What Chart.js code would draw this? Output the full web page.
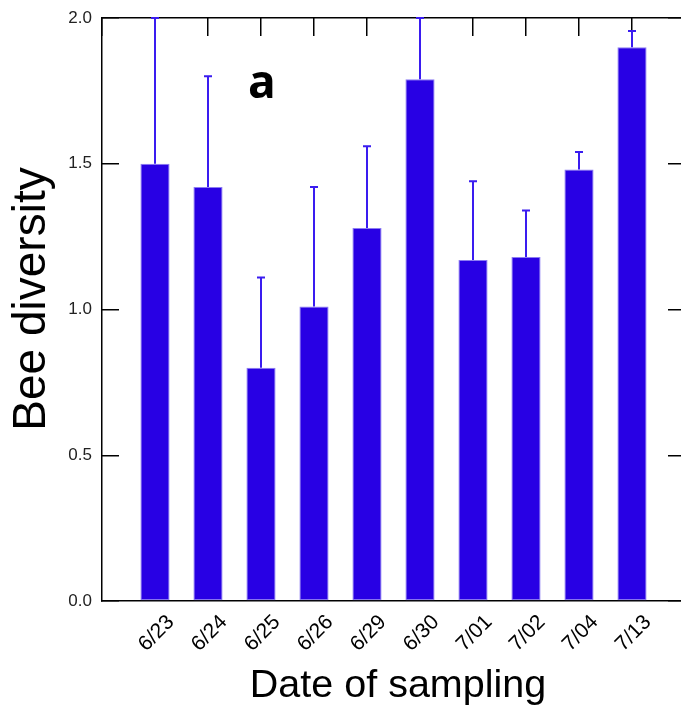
<!DOCTYPE html>
<html>
<head>
<meta charset="utf-8">
<script src="https://cdn.jsdelivr.net/npm/chart.js@4"></script>
<style>
  html, body { margin: 0; padding: 0; background: #fff; overflow: hidden; }
  canvas { display: block; }
</style>
</head>
<body>
<canvas id="beeChart" width="690" height="711"></canvas>
<script>
// Sampling dates and mean bee diversity (upper error bar only)
const dates = ['6/23', '6/24', '6/25', '6/26', '6/29', '6/30', '7/01', '7/02', '7/04', '7/13'];
const diversity = [1.50, 1.42, 0.80, 1.01, 1.28, 1.79, 1.17, 1.18, 1.48, 1.90];
const upperError = [0.50, 0.38, 0.31, 0.41, 0.28, 0.21, 0.27, 0.16, 0.06, 0.055];
const yTicks = [0.0, 0.5, 1.0, 1.5, 2.0];

// one empty slot on each side so the bars sit one category in from the frame
const labels = ['', ...dates, ''];
const barData = [null, ...diversity, null];

const BAR_BLUE = '#2800e4';
const font = '"Liberation Sans", Arial, sans-serif';

// scales add label padding to the layout; the frame is placed by hand here
const noPad = (s) => {
  s.paddingTop = 0;
  s.paddingBottom = 0;
  s.paddingLeft = 0;
  s.paddingRight = 0;
};

const errorBars = {
  id: 'errorBars',
  afterDatasetsDraw(chart) {
    const { ctx, chartArea, scales: { y } } = chart;
    const meta = chart.getDatasetMeta(0);
    ctx.save();
    ctx.beginPath();
    ctx.rect(chartArea.left, chartArea.top - 1, chartArea.width, chartArea.height + 1);
    ctx.clip();
    ctx.strokeStyle = '#3a1cf0';
    ctx.lineWidth = 2;
    diversity.forEach((v, i) => {
      const bar = meta.data[i + 1];
      const top = y.getPixelForValue(v + upperError[i]);
      ctx.beginPath();
      ctx.moveTo(bar.x, bar.y);
      ctx.lineTo(bar.x, top);
      ctx.moveTo(bar.x - 4, top);
      ctx.lineTo(bar.x + 4, top);
      ctx.stroke();
    });
    ctx.restore();
  }
};

const titles = {
  id: 'titles',
  afterDraw(chart) {
    const { ctx, chartArea } = chart;
    ctx.save();
    ctx.fillStyle = '#000';
    ctx.textAlign = 'center';
    ctx.textBaseline = 'alphabetic';

    ctx.font = '39.5px ' + font;
    ctx.fillText('Date of sampling', chartArea.left + 296, chartArea.bottom + 96);

    ctx.save();
    ctx.font = '46px ' + font;
    ctx.translate(chartArea.left - 57, chartArea.top + 281);
    ctx.rotate(-Math.PI / 2);
    ctx.fillText('Bee diversity', 0, 0);
    ctx.restore();

    ctx.textAlign = 'left';
    ctx.font = 'bold 46px "Open Sans", "Liberation Sans", sans-serif';
    ctx.fillText('a', chartArea.left + 146, chartArea.top + 80);
    ctx.restore();
  }
};

new Chart(document.getElementById('beeChart'), {
  type: 'bar',
  data: {
    labels: labels,
    datasets: [
      {
        data: barData,
        backgroundColor: BAR_BLUE,
        borderColor: '#8c7cf2',
        borderWidth: 1,
        borderSkipped: false,
        categoryPercentage: 1,
        barPercentage: 0.55,
      },
    ],
  },
  options: {
    responsive: false,
    animation: false,
    layout: { padding: { top: 18, right: 5, left: 0, bottom: 0 } },
    plugins: {
      legend: { display: false },
      tooltip: { enabled: false },
    },
    scales: {
      x: {
        type: 'category',
        position: 'bottom',
        offset: false,
        grid: { display: true, offset: false, drawOnChartArea: false, drawTicks: false },
        border: { color: '#000', width: 1.5 },
        ticks: {
          autoSkip: false,
          minRotation: 45,
          maxRotation: 45,
          labelOffset: 16,
          padding: 9,
          color: '#000',
          font: { family: font, size: 21 },
        },
        afterFit: (s) => { s.height = 110; noPad(s); },
      },
      xTop: {
        type: 'category',
        axis: 'x',
        position: 'top',
        offset: false,
        grid: { offset: false, drawOnChartArea: false, tickLength: -18, color: '#000', lineWidth: 1.5 },
        border: { color: '#000', width: 1.5 },
        ticks: { display: false },
        afterFit: (s) => { s.height = 0; noPad(s); },
      },
      y: {
        min: 0,
        max: 2,
        position: 'left',
        grid: { drawOnChartArea: false, tickLength: -17, color: '#000', lineWidth: 1.5 },
        border: { color: '#000', width: 1.5 },
        ticks: {
          padding: 27,
          color: '#222',
          font: { family: font, size: 17 },
          callback: (v) => v.toFixed(1),
        },
        afterBuildTicks: (s) => { s.ticks = yTicks.map((v) => ({ value: v })); },
        afterFit: (s) => { s.width = 102; noPad(s); },
      },
      yRight: {
        axis: 'y',
        min: 0,
        max: 2,
        position: 'right',
        grid: { drawOnChartArea: false, tickLength: -17, color: '#000', lineWidth: 1.5 },
        border: { display: false },
        ticks: { display: false },
        afterBuildTicks: (s) => { s.ticks = yTicks.map((v) => ({ value: v })); },
        afterFit: (s) => { s.width = 0; noPad(s); },
      },
    },
  },
  plugins: [errorBars, titles],
});
</script>
</body>
</html>
